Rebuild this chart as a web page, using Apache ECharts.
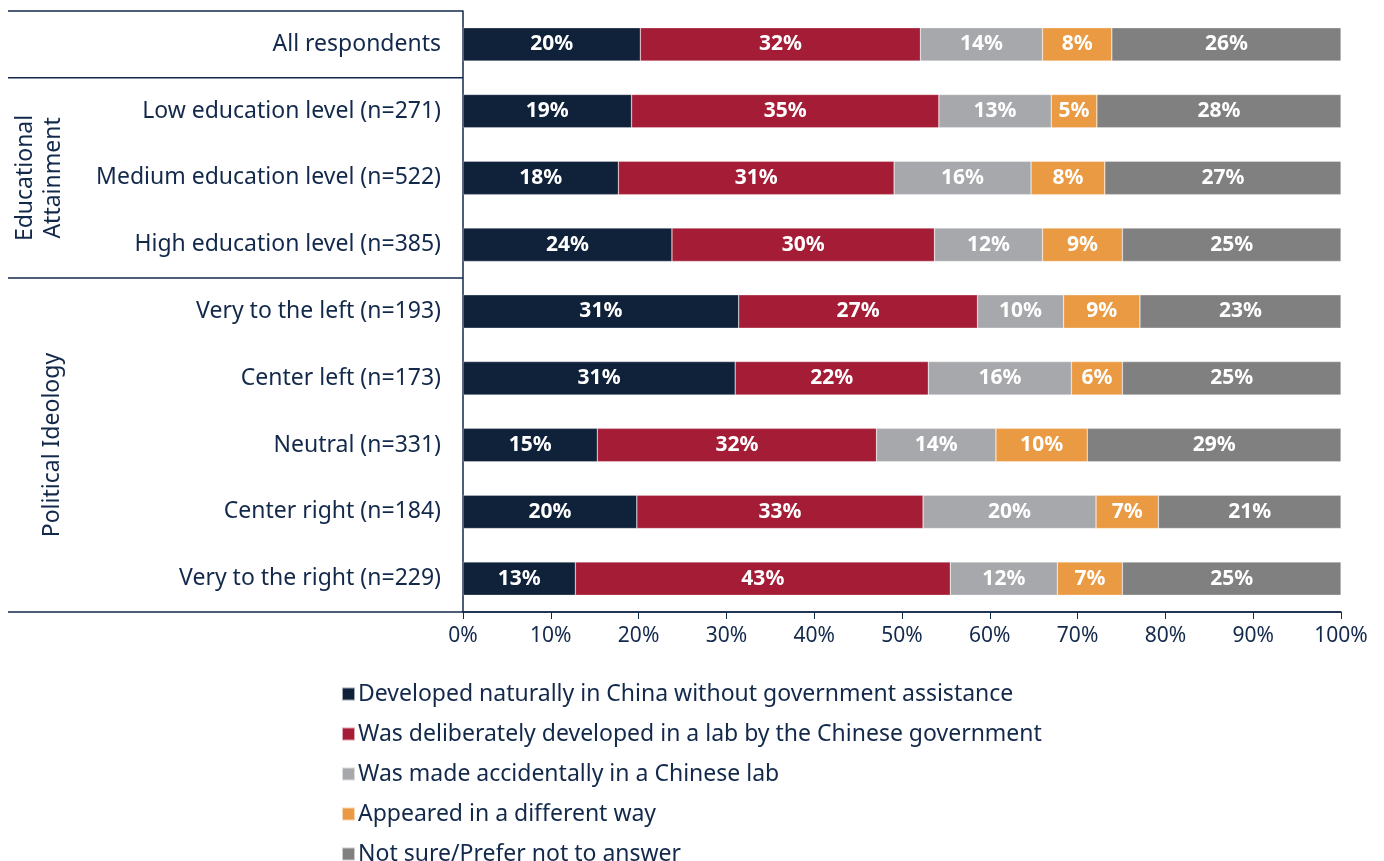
<!DOCTYPE html>
<html>
<head>
<meta charset="utf-8">
<script src="https://cdn.jsdelivr.net/npm/echarts@6/dist/echarts.min.js"></script>
<style>html,body{margin:0;padding:0;background:#fff}#c{width:1384px;height:861px}</style>
</head>
<body>
<div id="c"></div>
<script>
const categories = [
  'All respondents',
  'Low education level (n=271)',
  'Medium education level (n=522)',
  'High education level (n=385)',
  'Very to the left (n=193)',
  'Center left (n=173)',
  'Neutral (n=331)',
  'Center right (n=184)',
  'Very to the right (n=229)'
];
const seriesNames = [
  'Developed naturally in China without government assistance',
  'Was deliberately developed in a lab by the Chinese government',
  'Was made accidentally in a Chinese lab',
  'Appeared in a different way',
  'Not sure/Prefer not to answer'
];
const developedNaturally = [20.2, 19.2, 17.7, 23.8, 31.4, 31.0, 15.3, 19.8, 12.8];
const deliberatelyDeveloped = [31.9, 35.0, 31.4, 29.9, 27.2, 22.0, 31.8, 32.6, 42.7];
const madeAccidentally = [13.9, 12.8, 15.6, 12.3, 9.8, 16.3, 13.6, 19.7, 12.2];
const differentWay = [7.9, 5.2, 8.4, 9.1, 8.7, 5.8, 10.4, 7.1, 7.4];
const notSure = [26.1, 27.8, 26.9, 24.9, 22.9, 24.9, 28.9, 20.8, 24.9];
const xTicks = [0, 10, 20, 30, 40, 50, 60, 70, 80, 90, 100];
const groups = [
  {name: 'Educational\nAttainment', from: 1, to: 3},
  {name: 'Political Ideology', from: 4, to: 8}
];

const colors = ['#0f223a', '#a51c36', '#a7a8ac', '#e99a42', '#808080'];
const navy = '#13294b';
const FONT = '"Noto Sans", sans-serif';
const allValues = [developedNaturally, deliberatelyDeveloped, madeAccidentally, differentWay, notSure];

const chart = echarts.init(document.getElementById('c'), null, {renderer: 'canvas'});

const option = {
  animation: false,
  color: colors,
  textStyle: {fontFamily: FONT},
  grid: {left: 463, right: 43, top: 11, bottom: 249, containLabel: false},
  legend: {
    orient: 'vertical',
    left: 336,
    top: 677,
    height: 240,
    icon: 'rect',
    itemWidth: 13,
    itemHeight: 13,
    itemGap: 16,
    data: seriesNames,
    textStyle: {color: navy, fontSize: 23, fontFamily: FONT, lineHeight: 24, padding: [0, 0, 0, -2]}
  },
  xAxis: {
    type: 'value',
    min: xTicks[0],
    max: xTicks[xTicks.length - 1],
    interval: 10,
    axisLine: {show: true, lineStyle: {color: navy, width: 1.5}},
    axisTick: {show: true, length: 7, lineStyle: {color: navy}},
    splitLine: {show: false},
    axisLabel: {color: navy, fontSize: 21, fontFamily: FONT, margin: 14, formatter: '{value}%'}
  },
  yAxis: {
    type: 'category',
    inverse: true,
    data: categories,
    axisLine: {show: true, lineStyle: {color: navy, width: 1.5}},
    axisTick: {show: false},
    axisLabel: {color: navy, fontSize: 23, fontFamily: FONT, margin: 22}
  },
  series: seriesNames.map((name, i) => ({
    name: name,
    type: 'bar',
    stack: 'total',
    barWidth: '50%',
    data: allValues[i],
    itemStyle: {color: colors[i], borderColor: 'rgba(255,255,255,0.6)', borderWidth: 0.5},
    label: {
      show: true,
      position: 'inside',
      color: '#ffffff',
      fontSize: 21,
      fontWeight: 'bold',
      fontFamily: FONT,
      formatter: p => Math.round(p.value) + '%'
    }
  }))
};
chart.setOption(option);

// separators and group labels, positioned from the category axis scale
const c0 = chart.convertToPixel({yAxisIndex: 0}, 0);
const c1 = chart.convertToPixel({yAxisIndex: 0}, 1);
const band = c1 - c0;
const xLeft = 8;
const xAxisPx = chart.convertToPixel({xAxisIndex: 0}, 0);
const xRight = chart.convertToPixel({xAxisIndex: 0}, 100);
const boundary = i => chart.convertToPixel({yAxisIndex: 0}, i) + band / 2;
const topY = c0 - band / 2;
const lineStyle = {stroke: navy, lineWidth: 1.5};
const graphics = [
  {type: 'line', shape: {x1: xLeft, y1: topY, x2: xAxisPx, y2: topY}, style: lineStyle, silent: true},
  {type: 'line', shape: {x1: xLeft, y1: boundary(0), x2: xAxisPx, y2: boundary(0)}, style: lineStyle, silent: true}
];
groups.forEach(g => {
  const yEnd = boundary(g.to);
  const yStart = boundary(g.from) - band;
  const xEnd = g.to === categories.length - 1 ? xRight : xAxisPx;
  graphics.push({type: 'line', shape: {x1: xLeft, y1: yEnd, x2: xEnd, y2: yEnd}, style: lineStyle, silent: true});
  const multi = g.name.indexOf('\n') >= 0;
  graphics.push({
    type: 'text',
    x: multi ? 39 : 52,
    y: (yStart + yEnd) / 2,
    rotation: Math.PI / 2,
    silent: true,
    style: {
      text: g.name,
      fill: navy,
      font: '23px ' + FONT,
      lineHeight: 28,
      textAlign: 'center',
      textVerticalAlign: 'middle'
    }
  });
});
chart.setOption({graphic: graphics});
</script>
</body>
</html>
